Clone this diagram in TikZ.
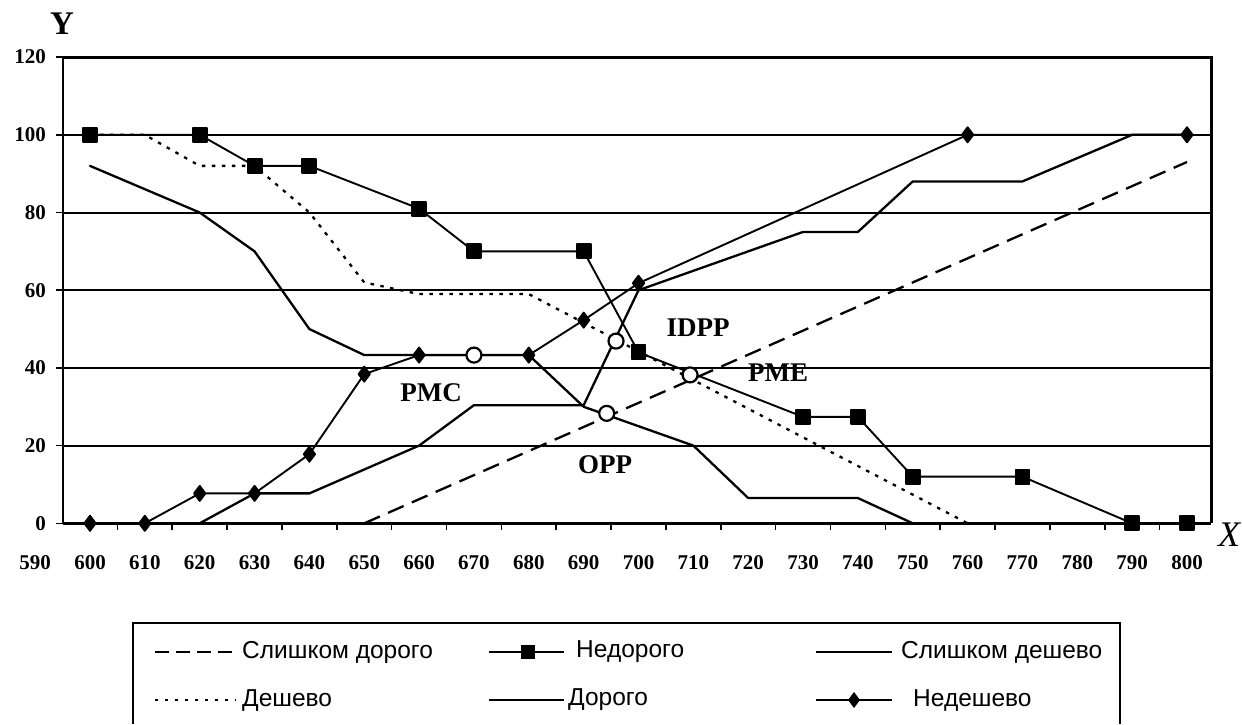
\documentclass[tikz,border=0pt]{standalone}
\usepackage{fontspec}
\setmainfont{Liberation Serif}
\newfontfamily\legfont{Liberation Sans}
\usetikzlibrary{plotmarks}

\begin{document}
\begin{tikzpicture}[x=1pt,y=-1pt,
  gridline/.style={line width=2pt},
  axisline/.style={line width=2.8pt},
  series/.style={line width=2.3pt, line join=round, line cap=round},
  toodear/.style={series, dash pattern=on 17pt off 9pt, line cap=butt},
  cheap/.style={series, dash pattern=on 3.5pt off 6.5pt, line cap=butt},
  sqmarks/.style={series, mark=square*, mark size=7pt, mark options={solid}},
  dmmarks/.style={series, mark=diamond*, mark size=7.5pt, mark options={solid}},
  crossing/.style={circle, draw, fill=white, line width=2.2pt, minimum size=15pt, inner sep=0pt},
  ticklab/.style={font=\bfseries\fontsize{21}{21}\selectfont, inner sep=0pt},
  regionlab/.style={font=\bfseries\fontsize{27}{27}\selectfont, inner sep=0pt},
  axislab/.style={font=\bfseries\fontsize{33}{33}\selectfont, inner sep=0pt},
  legtext/.style={font=\legfont\fontsize{24.5}{24.5}\selectfont, anchor=west, inner sep=0pt},
  legline/.style={line width=2pt}
]
\useasboundingbox (0,0) rectangle (1242,724);

% ---------- plot area in data coordinates (X = price, Y = percent) ----------
\begin{scope}[x=5.485pt, y=3.885pt, xshift=-3201pt, yshift=-523.3pt]
  % horizontal grid
  \foreach \g in {20,40,60,80,100}
    \draw[gridline] (595.08,\g) -- (804.4,\g);
  % frame and axes
  \draw[axisline] (595.08,120) -- (804.4,120) -- (804.4,0);
  \draw[axisline] (595.08,0) -- (595.08,120);
  \draw[axisline] (595.08,0) -- (804.4,0);
  % category ticks between labels
  \foreach \t in {605,615,...,795}
    \draw[line width=1.6pt] (\t,0) -- ++(0pt,-7pt);
  % x tick labels
  \foreach \v in {590,600,...,800}
    \node[ticklab] (xl\v) at (\v,0) [yshift=-39pt] {\v};

  % Слишком дорого
  \draw[toodear] (650,0) -- (800,93);
  % Дешево
  \draw[cheap] plot coordinates {(600,100) (610,100) (620,92) (630,92) (640,80) (650,62)
     (660,59) (670,59) (680,59) (760,0) (800,0)};
  % Слишком дешево
  \draw[series] plot coordinates {(600,92) (620,80) (630,70) (640,50) (650,43.3) (680,43.3)
     (690,30) (710,20) (720,6.5) (740,6.5) (750,0)};
  % Дорого
  \draw[series] plot coordinates {(620,0) (630,7.7) (640,7.7) (660,20) (670,30.4) (690,30.4)
     (700,60) (730,75) (740,75) (750,88) (770,88) (790,100) (800,100)};
  % Недорого
  \draw[sqmarks, line width=1.9pt] plot coordinates {(600,100) (620,100) (630,92) (640,92) (660,81)
     (670,70) (690,70) (700,44) (730,27.4) (740,27.4) (750,12) (770,12) (790,0) (800,0)};
  % Недешево
  \draw[dmmarks, line width=1.9pt] plot coordinates {(600,0) (610,0) (620,7.7) (630,7.7) (640,17.8)
     (650,38.4) (660,43.3) (680,43.3) (690,52.3) (700,61.8) (760,100) (800,100)};

  % intersection points
  \node[crossing] (pmc)  at (670,43.3) {};
  \node[crossing] (idpp) at (695.9,46.9) {};
  \node[crossing] (pme)  at (709.4,38.2) {};
  \node[crossing] (opp)  at (694.2,28.3) {};
\end{scope}

% y axis labels and ticks
\foreach \v/\py in {0/523.3,20/445.6,40/367.9,60/290.2,80/212.5,100/134.8,120/57.1}{
  \draw[line width=1.6pt] (56,\py) -- (63,\py);
  \node[ticklab, anchor=east] (yl\v) at (46,\py) {\v};
}

% axis letters
\node[axislab] (ylab) at (62,24) {Y};
\node[axislab, font=\itshape\fontsize{36}{36}\selectfont] (xlab) at (1229,535) {X};

% region labels
\node[regionlab] (tpmc)  at (431,393) {PMC};
\node[regionlab] (tidpp) at (698,328) {IDPP};
\node[regionlab] (tpme)  at (778,373) {PME};
\node[regionlab] (topp)  at (605,465) {OPP};

% ---------- legend ----------
\draw[line width=2pt] (133,724) -- (133,623) -- (1120,623) -- (1120,724);

\coordinate (a1) at (155,652); \coordinate (b1) at (236,652);
\draw[legline, dash pattern=on 14pt off 7pt] (a1) -- (b1);
\node[legtext] (t1) at (242,652) {Слишком дорого};

\coordinate (a2) at (155,700); \coordinate (b2) at (236,700);
\draw[legline, dash pattern=on 3pt off 7pt] (a2) -- (b2);
\node[legtext] (t2) at (242,700) {Дешево};

\coordinate (a3) at (489,652); \coordinate (b3) at (564,652);
\draw[legline] (a3) -- (b3);
\fill (528,652) +(-7,-7) rectangle +(7,7);
\node[legtext] (t3) at (576,652) {Недорого};

\coordinate (a4) at (489,700); \coordinate (b4) at (564,700);
\draw[legline] (a4) -- (b4);
\node[legtext] (t4) at (568,700) {Дорого};

\coordinate (a5) at (816,652); \coordinate (b5) at (892,652);
\draw[legline] (a5) -- (b5);
\node[legtext] (t5) at (901,652) {Слишком дешево};

\coordinate (a6) at (816,700); \coordinate (b6) at (892,700);
\draw[legline] (a6) -- (b6);
\fill (854,692) -- (860,700) -- (854,708) -- (848,700) -- cycle;
\node[legtext] (t6) at (913,700) {Недешево};

\end{tikzpicture}
\end{document}
